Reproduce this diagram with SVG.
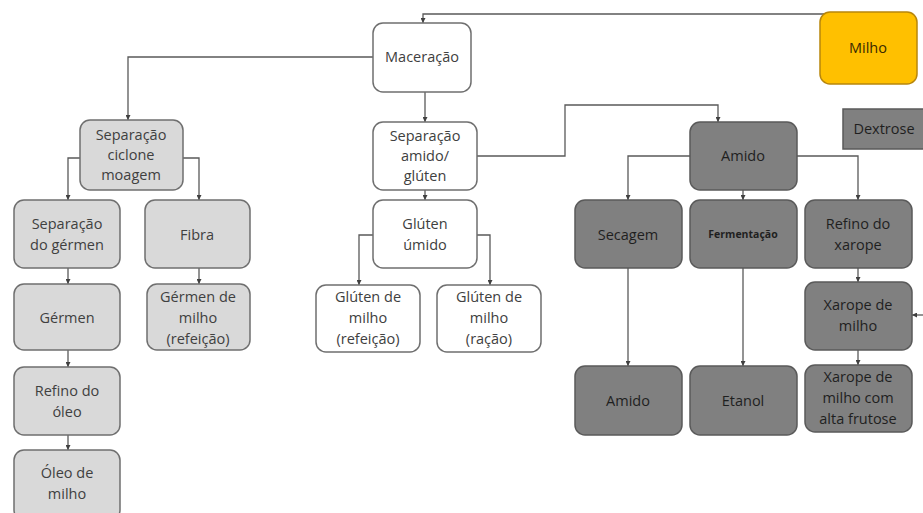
<svg xmlns="http://www.w3.org/2000/svg" width="923" height="513" viewBox="0 0 923 513">
<defs>
<marker id="ah" viewBox="0 0 6 6" refX="6" refY="3" markerWidth="5" markerHeight="5" orient="auto" markerUnits="userSpaceOnUse">
<path d="M0,0 L6,3 L0,6 z" fill="#404040"/>
</marker>
<style>
.n rect{stroke:#6f6f6f;stroke-width:1.5}
.lt rect{fill:#d9d9d9}
.wh rect{fill:#ffffff}
.dk rect{fill:#808080;stroke:#5a5a5a}
.yl rect{fill:#ffc000;stroke:#b8860b}
text{font-family:"Open Sans","Liberation Sans",sans-serif;font-size:14.5px;fill:#404040;text-anchor:middle}
.dk text{fill:#1f1f1f}
.yl text{fill:#3a2a00}
.c path{fill:none;stroke:#595959;stroke-width:1.3;marker-end:url(#ah)}
</style>
</defs>
<rect width="923" height="513" fill="#ffffff"/>
<g class="c">
<path d="M828,14 L423,14 L423,23"/>
<path d="M373,57 L128,57 L128,120"/>
<path d="M425,92 L425,122"/>
<path d="M80,158 L68,158 L68,200"/>
<path d="M183,158 L199,158 L199,200"/>
<path d="M68,268 L68,284"/>
<path d="M199,268 L199,284"/>
<path d="M68,350 L68,367"/>
<path d="M68,435 L68,450"/>
<path d="M425,190 L425,200"/>
<path d="M373,235 L359,235 L359,285"/>
<path d="M477,235 L490,235 L490,285"/>
<path d="M477,156 L565,156 L565,105 L718,105 L718,122"/>
<path d="M690,156 L628,156 L628,200"/>
<path d="M743,190 L743,200"/>
<path d="M797,156 L858,156 L858,200"/>
<path d="M628,268 L628,366"/>
<path d="M743,268 L743,366"/>
<path d="M858,268 L858,282"/>
<path d="M858,350 L858,365"/>
<path d="M923,315 L912,315"/>
</g>
<g id="milho" class="n yl"><rect x="820" y="12" width="97" height="72" rx="10"/><text x="868" y="53">Milho</text></g>
<g id="maceracao" class="n wh"><rect x="373" y="23" width="98" height="69" rx="10"/><text x="422" y="62">Maceração</text></g>
<g id="sep-ciclone" class="n lt"><rect x="80" y="120" width="103" height="70" rx="10"/><text x="131" y="140">Separação</text><text x="131" y="160">ciclone</text><text x="131" y="180">moagem</text></g>
<g id="sep-germen" class="n lt"><rect x="14" y="200" width="106" height="68" rx="10"/><text x="67" y="229">Separação</text><text x="67" y="250">do gérmen</text></g>
<g id="fibra" class="n lt"><rect x="145" y="200" width="105" height="68" rx="10"/><text x="197" y="240">Fibra</text></g>
<g id="germen" class="n lt"><rect x="14" y="284" width="106" height="66" rx="10"/><text x="67" y="323">Gérmen</text></g>
<g id="germen-milho" class="n lt"><rect x="147" y="284" width="103" height="66" rx="10"/><text x="198" y="302">Gérmen de</text><text x="198" y="323">milho</text><text x="198" y="344">(refeição)</text></g>
<g id="refino-oleo" class="n lt"><rect x="14" y="367" width="106" height="68" rx="10"/><text x="67" y="396">Refino do</text><text x="67" y="417">óleo</text></g>
<g id="oleo-milho" class="n lt"><rect x="14" y="450" width="106" height="70" rx="10"/><text x="67" y="478">Óleo de</text><text x="67" y="499">milho</text></g>
<g id="sep-amido" class="n wh"><rect x="373" y="122" width="104" height="68" rx="10"/><text x="425" y="141">Separação</text><text x="425" y="161">amido/</text><text x="425" y="181">glúten</text></g>
<g id="gluten-umido" class="n wh"><rect x="373" y="200" width="104" height="68" rx="10"/><text x="425" y="229">Glúten</text><text x="425" y="250">úmido</text></g>
<g id="gluten-refeicao" class="n wh"><rect x="316" y="285" width="104" height="67" rx="10"/><text x="368" y="302">Glúten de</text><text x="368" y="323">milho</text><text x="368" y="344">(refeição)</text></g>
<g id="gluten-racao" class="n wh"><rect x="437" y="285" width="104" height="67" rx="10"/><text x="489" y="302">Glúten de</text><text x="489" y="323">milho</text><text x="489" y="344">(ração)</text></g>
<g id="amido-top" class="n dk"><rect x="690" y="122" width="107" height="68" rx="10"/><text x="743" y="161">Amido</text></g>
<g id="dextrose" class="n dk"><rect x="843" y="109" width="85" height="40" rx="0"/><text x="884" y="134">Dextrose</text></g>
<g id="secagem" class="n dk"><rect x="575" y="200" width="107" height="68" rx="10"/><text x="628" y="240">Secagem</text></g>
<g id="fermentacao" class="n dk"><rect x="690" y="200" width="107" height="68" rx="10"/><text x="743" y="238" style="font-size:10.5px;font-weight:bold">Fermentação</text></g>
<g id="refino-xarope" class="n dk"><rect x="805" y="200" width="107" height="68" rx="10"/><text x="858" y="229">Refino do</text><text x="858" y="250">xarope</text></g>
<g id="xarope-milho" class="n dk"><rect x="805" y="282" width="107" height="68" rx="10"/><text x="858" y="310">Xarope de</text><text x="858" y="331">milho</text></g>
<g id="amido-bottom" class="n dk"><rect x="575" y="366" width="107" height="69" rx="10"/><text x="628" y="406">Amido</text></g>
<g id="etanol" class="n dk"><rect x="690" y="366" width="107" height="69" rx="10"/><text x="743" y="406">Etanol</text></g>
<g id="xarope-frutose" class="n dk"><rect x="805" y="365" width="107" height="67" rx="10"/><text x="858" y="382">Xarope de</text><text x="858" y="403">milho com</text><text x="858" y="424">alta frutose</text></g>
</svg>
